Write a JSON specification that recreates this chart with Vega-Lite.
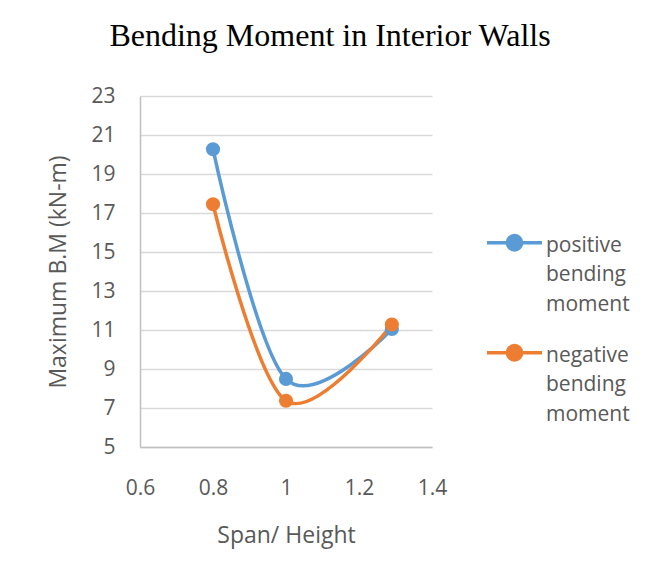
{
  "$schema": "https://vega.github.io/schema/vega-lite/v6.json",
  "width": 292,
  "height": 351,
  "autosize": {"type": "none"},
  "padding": {"left": 140, "top": 96, "right": 219, "bottom": 136},
  "background": "white",
  "title": {
    "text": "Bending Moment in Interior Walls",
    "font": "Liberation Serif",
    "fontSize": 32,
    "fontWeight": "normal",
    "color": "#000000",
    "anchor": "middle",
    "dx": 44,
    "offset": 32
  },
  "data": {
    "values": [
      {"ratio": 0.8, "bm": 20.27, "series": "positive bending moment"},
      {"ratio": 1.0, "bm": 8.49, "series": "positive bending moment"},
      {"ratio": 1.29, "bm": 11.05, "series": "positive bending moment"},
      {"ratio": 0.8, "bm": 17.45, "series": "negative bending moment"},
      {"ratio": 1.0, "bm": 7.37, "series": "negative bending moment"},
      {"ratio": 1.29, "bm": 11.28, "series": "negative bending moment"}
    ]
  },
  "encoding": {
    "x": {
      "field": "ratio",
      "type": "quantitative",
      "scale": {"domain": [0.6, 1.4], "nice": false, "zero": false},
      "axis": {
        "values": [0.6, 0.8, 1, 1.2, 1.4],
        "format": "~g",
        "labelFlush": false,
        "labelOverlap": false,
        "title": "Span/ Height",
        "grid": false,
        "ticks": false,
        "domainColor": "#bfbfbf",
        "domainWidth": 1.5,
        "labelFont": "Open Sans",
        "labelFontSize": 21,
        "labelColor": "#595959",
        "labelPadding": 30,
        "titleFont": "Open Sans",
        "titleFontSize": 23,
        "titleFontWeight": "normal",
        "titleColor": "#595959",
        "titlePadding": 26
      }
    },
    "y": {
      "field": "bm",
      "type": "quantitative",
      "scale": {"domain": [5, 23], "nice": false, "zero": false},
      "axis": {
        "values": [5, 7, 9, 11, 13, 15, 17, 19, 21, 23],
        "labelFlush": false,
        "labelOverlap": false,
        "title": "Maximum B.M (kN-m)",
        "grid": true,
        "gridColor": "#d9d9d9",
        "gridWidth": 1.5,
        "ticks": false,
        "domainColor": "#bfbfbf",
        "domainWidth": 1.5,
        "labelFont": "Open Sans",
        "labelFontSize": 21,
        "labelColor": "#595959",
        "labelPadding": 25,
        "titleFont": "Open Sans",
        "titleFontSize": 23,
        "titleFontWeight": "normal",
        "titleColor": "#595959",
        "titlePadding": 20
      }
    },
    "color": {
      "field": "series",
      "type": "nominal",
      "scale": {
        "domain": ["positive bending moment", "negative bending moment"],
        "range": ["#5B9BD5", "#ED7D31"]
      },
      "legend": {
        "title": null,
        "orient": "none",
        "legendX": 345,
        "legendY": 109,
        "symbolType": "M-1,0.3H1M0.26,0.3A0.26,0.26 0 1,1 -0.26,0.3A0.26,0.26 0 1,1 0.26,0.3",
        "symbolSize": 3025,
        "symbolStrokeWidth": 3.5,
        "labelExpr": "split(datum.label, ' ')",
        "labelBaseline": "top",
        "labelFont": "Open Sans",
        "labelFontSize": 21,
        "labelColor": "#595959",
        "labelOffset": 2,
        "rowPadding": -19,
        "encode": {
          "labels": {"update": {"lineHeight": {"value": 29.5}}}
        }
      }
    }
  },
  "layer": [
    {"mark": {"type": "line", "interpolate": "cardinal", "tension": 0, "strokeWidth": 3.5}},
    {"mark": {"type": "circle", "size": 200, "opacity": 1}}
  ],
  "config": {"view": {"stroke": null}}
}
